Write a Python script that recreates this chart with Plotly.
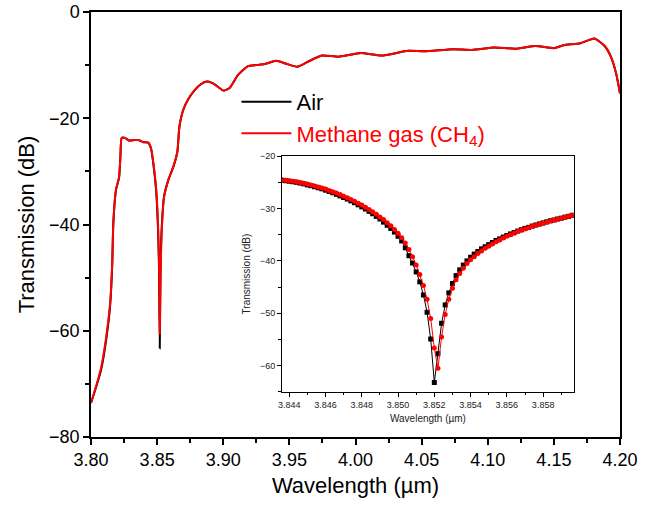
import plotly.graph_objects as go

# ---------------- main spectrum ----------------
main_wl = [3.8000, 3.8040, 3.8076, 3.8110, 3.8144, 3.8160, 3.8169, 3.8189, 3.8212, 3.8222,
           3.8232, 3.8257, 3.8280, 3.8295, 3.8330, 3.8358, 3.8396, 3.8433, 3.8454, 3.8471,
           3.8492, 3.8507, 3.8514, 3.8520, 3.8526, 3.8534, 3.8552, 3.8585, 3.8623, 3.8653,
           3.8666, 3.8673, 3.8698, 3.8736, 3.8784, 3.8830, 3.8877, 3.8910, 3.8940, 3.9002,
           3.9048, 3.9110, 3.9187, 3.9250, 3.9312, 3.9400, 3.9483, 3.9560, 3.9637, 3.9745,
           3.9870, 4.0040, 4.0197, 4.0398, 4.0523, 4.0740, 4.0880, 4.1051, 4.1206, 4.1362,
           4.1500, 4.1573, 4.1700, 4.1806, 4.1884, 4.1931, 4.1970, 4.2000]
main_air = [-73.6, -70.5, -67.4, -62.5, -55.5, -48.0, -39.7, -33.5, -31.2, -27.5,
            -23.7, -23.7, -24.1, -24.2, -24.1, -24.1, -24.5, -24.6, -25.7, -28.5,
            -33.5, -41.0, -48.0, -63.3, -48.0, -41.0, -34.8, -31.6, -29.1, -26.3,
            -22.2, -20.9, -18.4, -16.4, -14.7, -13.6, -13.1, -13.3, -13.7, -14.8,
            -14.3, -11.9, -10.2, -10.0, -9.8, -9.2, -9.8, -10.3, -9.4, -8.2,
            -8.4, -7.7, -8.2, -7.3, -7.4, -7.0, -7.15, -6.7, -6.9, -6.4,
            -6.8, -6.25, -5.9, -5.0, -6.4, -8.4, -11.5, -15.3]
main_ch4 = [-73.6, -70.3, -67.0, -62.0, -55.0, -47.5, -39.5, -33.4, -31.1, -27.4,
            -23.7, -23.7, -24.1, -24.2, -24.1, -24.1, -24.5, -24.6, -25.7, -28.3,
            -33.0, -40.0, -46.5, -60.6, -49.5, -41.8, -34.9, -31.6, -29.1, -26.3,
            -22.2, -20.9, -18.4, -16.4, -14.7, -13.6, -13.1, -13.3, -13.7, -14.8,
            -14.3, -11.9, -10.2, -10.0, -9.8, -9.2, -9.8, -10.3, -9.4, -8.2,
            -8.4, -7.7, -8.2, -7.3, -7.4, -7.0, -7.15, -6.7, -6.9, -6.4,
            -6.8, -6.25, -5.9, -5.0, -6.4, -8.4, -11.5, -15.3]

# ---------------- inset (zoom near resonance) ----------------
inset_wl = [3.8436, 3.8438, 3.8440, 3.8442, 3.8444, 3.8446, 3.8448, 3.8450, 3.8452, 3.8454,
            3.8456, 3.8458, 3.8460, 3.8462, 3.8464, 3.8466, 3.8468, 3.8470, 3.8472, 3.8474,
            3.8476, 3.8478, 3.8480, 3.8482, 3.8484, 3.8486, 3.8488, 3.8490, 3.8492, 3.8494,
            3.8496, 3.8498, 3.8500, 3.8502, 3.8504, 3.8506, 3.8508, 3.8510, 3.8512, 3.8514,
            3.8516, 3.8518, 3.8520, 3.8522, 3.8524, 3.8526, 3.8528, 3.8530, 3.8532, 3.8534,
            3.8536, 3.8538, 3.8540, 3.8542, 3.8544, 3.8546, 3.8548, 3.8550, 3.8552, 3.8554,
            3.8556, 3.8558, 3.8560, 3.8562, 3.8564, 3.8566, 3.8568, 3.8570, 3.8572, 3.8574,
            3.8576, 3.8578, 3.8580, 3.8582, 3.8584, 3.8586, 3.8588, 3.8590, 3.8592, 3.8594,
            3.8596]
inset_air = [-24.6, -24.7, -24.8, -24.9, -25.0, -25.15, -25.3, -25.5, -25.65, -25.85,
             -26.05, -26.25, -26.5, -26.75, -27.0, -27.3, -27.6, -27.9, -28.2, -28.55,
             -28.9, -29.3, -29.7, -30.1, -30.55, -31.0, -31.5, -32.0, -32.6, -33.2,
             -33.8, -34.5, -35.3, -36.2, -37.5, -39.0, -40.4, -42.1, -44.0, -46.5,
             -49.8, -54.9, -63.2, -57.7, -51.9, -48.4, -46.1, -44.3, -42.8, -41.7,
             -40.8, -40.0, -39.3, -38.7, -38.2, -37.7, -37.3, -36.9, -36.5, -36.1,
             -35.8, -35.45, -35.15, -34.85, -34.6, -34.3, -34.05, -33.8, -33.6, -33.35,
             -33.15, -32.95, -32.75, -32.55, -32.35, -32.2, -32.0, -31.85, -31.65, -31.5,
             -31.3]
inset_ch4 = [-24.5, -24.6, -24.7, -24.8, -24.9, -25.05, -25.2, -25.35, -25.5, -25.7,
             -25.9, -26.1, -26.3, -26.55, -26.8, -27.05, -27.35, -27.65, -27.95, -28.3,
             -28.6, -29.0, -29.35, -29.75, -30.2, -30.6, -31.1, -31.6, -32.1, -32.7,
             -33.3, -34.0, -34.7, -35.6, -36.6, -37.8, -39.2, -40.8, -42.6, -44.7,
             -47.3, -51.0, -56.6, -60.5, -54.5, -50.2, -47.3, -45.2, -43.6, -42.4,
             -41.4, -40.5, -39.8, -39.2, -38.6, -38.1, -37.6, -37.2, -36.75, -36.35,
             -36.0, -35.65, -35.3, -35.0, -34.7, -34.4, -34.15, -33.9, -33.65, -33.4,
             -33.2, -33.0, -32.8, -32.6, -32.4, -32.2, -32.05, -31.85, -31.65, -31.5,
             -31.3]

FONT = "Liberation Sans, Arial, sans-serif"
RED = "#ff0000"

fig = go.Figure()
fig.add_trace(go.Scatter(x=main_wl, y=main_air, mode="lines", name="Air",
                         line=dict(color="black", width=2, shape="spline", smoothing=0.5)))
fig.add_trace(go.Scatter(x=main_wl, y=main_ch4, mode="lines",
                         name='<span style="color:#ff0000">Methane gas (CH<sub>4</sub>)</span>',
                         line=dict(color=RED, width=2, shape="spline", smoothing=0.5)))
fig.add_trace(go.Scatter(x=inset_wl, y=inset_air, mode="lines+markers", showlegend=False,
                         line=dict(color="black", width=1),
                         marker=dict(symbol="square", size=5, color="black"),
                         xaxis="x2", yaxis="y2"))
fig.add_trace(go.Scatter(x=inset_wl, y=inset_ch4, mode="lines+markers", showlegend=False,
                         line=dict(color=RED, width=1),
                         marker=dict(symbol="circle", size=5, color=RED),
                         xaxis="x2", yaxis="y2"))

fig.update_layout(
    width=646, height=506,
    margin=dict(l=91, r=26, t=12, b=69),
    paper_bgcolor="white", plot_bgcolor="white",
    font=dict(family=FONT, color="black"),
    showlegend=True,
    legend=dict(x=0.275, y=0.838, xanchor="left", yanchor="top",
                bgcolor="rgba(0,0,0,0)", font=dict(size=22, family=FONT),
                itemwidth=50, tracegroupgap=0),
    xaxis=dict(range=[3.80, 4.20], tick0=3.80, dtick=0.05, tickformat=".2f",
               automargin="bottom",
               showgrid=False, zeroline=False, showline=True, linecolor="black",
               linewidth=1.5, mirror=True, ticks="outside", ticklen=6, tickwidth=1.5,
               tickcolor="black", tickfont=dict(size=18),
               minor=dict(dtick=0.025, tick0=3.80, ticks="outside", ticklen=4,
                          tickwidth=1.5, tickcolor="black"),
               title=dict(text="Wavelength (µm)", font=dict(size=22), standoff=8),
               domain=[0, 1]),
    yaxis=dict(range=[-80, 0], tick0=0, dtick=20,
               automargin="left",
               showgrid=False, zeroline=False, showline=True, linecolor="black",
               linewidth=1.5, mirror=True, ticks="outside", ticklen=6, tickwidth=1.5,
               tickcolor="black", tickfont=dict(size=18),
               minor=dict(dtick=10, tick0=0, ticks="outside", ticklen=4,
                          tickwidth=1.5, tickcolor="black"),
               title=dict(text="Transmission (dB)", font=dict(size=22), standoff=8),
               domain=[0, 1]),
    xaxis2=dict(range=[3.8436, 3.8597], tick0=3.844, dtick=0.002, tickformat=".3f",
                anchor="y2", domain=[0.361, 0.913], automargin="bottom",
                showgrid=False, zeroline=False, showline=True, linecolor="black",
                linewidth=1, mirror=True, ticks="outside", ticklen=4, tickwidth=1,
                tickcolor="black", tickfont=dict(size=9, color="#222222"),
                minor=dict(dtick=0.001, tick0=3.844, ticks="outside", ticklen=2.5,
                           tickwidth=1, tickcolor="black"),
                title=dict(text="Wavelength (µm)", font=dict(size=10, color="#222222"),
                           standoff=6)),
    yaxis2=dict(range=[-65, -20], tick0=-20, dtick=10,
                anchor="x2", domain=[0.106, 0.661], automargin="left",
                showgrid=False, zeroline=False, showline=True, linecolor="black",
                linewidth=1, mirror=True, ticks="outside", ticklen=4, tickwidth=1,
                tickcolor="black", tickfont=dict(size=9, color="#222222"),
                minor=dict(dtick=5, tick0=-20, ticks="outside", ticklen=2.5,
                           tickwidth=1, tickcolor="black"),
                title=dict(text="Transmission (dB)", font=dict(size=10, color="#222222"),
                           standoff=7)),
)

fig.write_html("out.html")
